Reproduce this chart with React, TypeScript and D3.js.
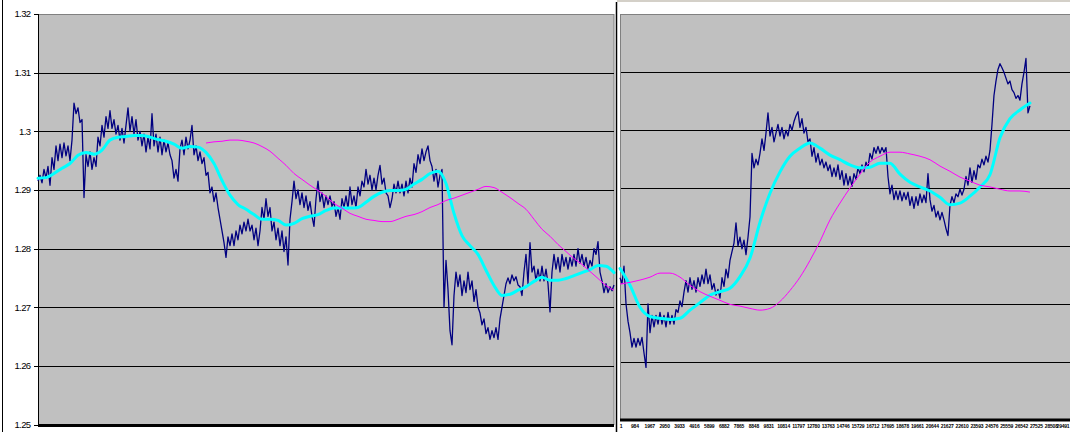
import React from 'react';
import * as d3 from 'd3';

// ---------- axis data ----------
const Y_TICKS = [1.25, 1.26, 1.27, 1.28, 1.29, 1.3, 1.31, 1.32];
const Y_TICK_LABELS = ['1.25', '1.26', '1.27', '1.28', '1.29', '1.3', '1.31', '1.32'];
const RIGHT_X_TICKS = [1, 984, 1967, 2950, 3933, 4916, 5899, 6882, 7865, 8848, 9831, 10814, 11797, 12780, 13763, 14746, 15729, 16712, 17695, 18678, 19661, 20644, 21627, 22610, 23593, 24576, 25559, 26542, 27525, 28508, 29491];

// observation counts (category numbers)
const LEFT_OBS_TOTAL = 38016;
const LEFT_SLOW_START = 11088;
const RIGHT_OBS_TOTAL = 31700;
const RIGHT_DATA_END = 27100;

// ---------- left chart series ----------
const leftPrice = [
  1.2915, 1.2925, 1.2912, 1.2935, 1.2920, 1.2940, 1.2908, 1.2955, 1.2935, 1.2975,
  1.2950, 1.2978, 1.2955, 1.2980, 1.2958, 1.2975, 1.2950, 1.2985, 1.3048, 1.3030,
  1.3040, 1.3015, 1.3020, 1.2887, 1.2960, 1.2940, 1.2965, 1.2935, 1.2955, 1.2940,
  1.2990, 1.2975, 1.3010, 1.2990, 1.3025, 1.3005, 1.3035, 1.3005, 1.3020, 1.2995,
  1.3010, 1.2985, 1.3005, 1.2980, 1.3010, 1.3040, 1.3000, 1.3025, 1.2995, 1.3020,
  1.2985, 1.3000, 1.2975, 1.2995, 1.2965, 1.2990, 1.2970, 1.3030, 1.2975, 1.2995,
  1.2965, 1.2990, 1.2960, 1.2985, 1.2965, 1.2980, 1.2960, 1.2950, 1.2920, 1.2935,
  1.2915, 1.2970, 1.2985, 1.2960, 1.2990, 1.2970, 1.2985, 1.3010, 1.2960, 1.2975,
  1.2950, 1.2965, 1.2945, 1.2955, 1.2925, 1.2930, 1.2895, 1.2905, 1.2880, 1.2895,
  1.2870, 1.2850, 1.2830, 1.2810, 1.2785, 1.2820, 1.2805, 1.2825, 1.2805, 1.2830,
  1.2815, 1.2840, 1.2825, 1.2845, 1.2830, 1.2850, 1.2830, 1.2840, 1.2815, 1.2835,
  1.2805, 1.2830, 1.2870, 1.2850, 1.2885, 1.2855, 1.2870, 1.2830, 1.2845, 1.2815,
  1.2835, 1.2805, 1.2830, 1.2795, 1.2820, 1.2772, 1.2850, 1.2880, 1.2915, 1.2885,
  1.2900, 1.2875, 1.2895, 1.2870, 1.2890, 1.2865, 1.2880, 1.2855, 1.2838, 1.2885,
  1.2915, 1.2880, 1.2895, 1.2870, 1.2890, 1.2875, 1.2890, 1.2872, 1.2880, 1.2855,
  1.2870, 1.2850, 1.2885, 1.2870, 1.2890, 1.2868, 1.2905, 1.2875, 1.2890, 1.2870,
  1.2905, 1.2890, 1.2915, 1.2905, 1.2935, 1.2910, 1.2925, 1.2900, 1.2920, 1.2900,
  1.2925, 1.2942, 1.2910, 1.2920, 1.2895, 1.2890, 1.2870, 1.2885, 1.2910, 1.2895,
  1.2915, 1.2895, 1.2910, 1.2890, 1.2915, 1.2895, 1.2920, 1.2905, 1.2945, 1.2930,
  1.2960, 1.2945, 1.2970, 1.2950, 1.2965, 1.2975, 1.2950, 1.2940, 1.2915, 1.2935,
  1.2905, 1.2925, 1.2935, 1.2700, 1.2780, 1.2730, 1.2660, 1.2636, 1.2720, 1.2760,
  1.2735, 1.2755, 1.2720, 1.2745, 1.2725, 1.2760, 1.2730, 1.2745, 1.2710, 1.2730,
  1.2700, 1.2690, 1.2670, 1.2680, 1.2655, 1.2665, 1.2645, 1.2660, 1.2648, 1.2665,
  1.2645, 1.2680, 1.2700, 1.2720, 1.2740, 1.2750, 1.2740, 1.2755, 1.2745, 1.2752,
  1.2738, 1.2735, 1.2720, 1.2760, 1.2790, 1.2740, 1.2810, 1.2760, 1.2770, 1.2745,
  1.2765, 1.2745, 1.2770, 1.2745, 1.2765, 1.2740, 1.2692, 1.2760, 1.2790, 1.2765,
  1.2785, 1.2760, 1.2790, 1.2770, 1.2785, 1.2765, 1.2785, 1.2770, 1.2790, 1.2770,
  1.2800, 1.2775, 1.2790, 1.2770, 1.2785, 1.2765, 1.2780, 1.2770, 1.2800, 1.2790,
  1.2812, 1.2760, 1.2745, 1.2725, 1.2740, 1.2725, 1.2735, 1.2728, 1.2738,
];

const leftFastMA = [
  1.2920, 1.2921, 1.2928, 1.2937, 1.2945, 1.2959, 1.2964, 1.2961, 1.2968, 1.2985,
  1.2990, 1.2991, 1.2993, 1.2993, 1.2990, 1.2986, 1.2983, 1.2978, 1.2971, 1.2974,
  1.2973, 1.2964, 1.2945, 1.2916, 1.2891, 1.2875, 1.2867, 1.2858, 1.2850, 1.2850,
  1.2848, 1.2840, 1.2843, 1.2851, 1.2855, 1.2858, 1.2865, 1.2869, 1.2869, 1.2869,
  1.2870, 1.2879, 1.2889, 1.2896, 1.2899, 1.2899, 1.2901, 1.2910, 1.2918, 1.2928,
  1.2932, 1.2911, 1.2860, 1.2822, 1.2805, 1.2790, 1.2763, 1.2737, 1.2720, 1.2722,
  1.2729, 1.2735, 1.2744, 1.2751, 1.2746, 1.2746, 1.2749, 1.2754, 1.2759, 1.2764,
  1.2771, 1.2770, 1.2759,
];

const leftSlowMA = [
  1.2980, 1.2982, 1.2983, 1.2985, 1.2985, 1.2983, 1.2980, 1.2974, 1.2966, 1.2954,
  1.2942, 1.2928, 1.2918, 1.2908, 1.2899, 1.2889, 1.2877, 1.2869, 1.2860, 1.2855,
  1.2850, 1.2848, 1.2846, 1.2846, 1.2850, 1.2855, 1.2858, 1.2863, 1.2870, 1.2875,
  1.2882, 1.2886, 1.2891, 1.2896, 1.2901, 1.2906, 1.2904, 1.2896, 1.2887, 1.2877,
  1.2867, 1.2850, 1.2833, 1.2821, 1.2807, 1.2795, 1.2783, 1.2773, 1.2761, 1.2749,
  1.2737, 1.2729,
];

// ---------- right chart series ----------
const rightPrice = [
  1.2745, 1.2735, 1.2765, 1.2700, 1.2670, 1.2650, 1.2625, 1.2640, 1.2625, 1.2640,
  1.2628, 1.2642, 1.2615, 1.2590, 1.2700, 1.2650, 1.2680, 1.2660, 1.2680, 1.2665,
  1.2685, 1.2665, 1.2680, 1.2660, 1.2685, 1.2665, 1.2680, 1.2665, 1.2690, 1.2685,
  1.2705, 1.2695, 1.2720, 1.2740, 1.2720, 1.2745, 1.2725, 1.2740, 1.2720, 1.2745,
  1.2730, 1.2750, 1.2735, 1.2760, 1.2735, 1.2750, 1.2725, 1.2735, 1.2715, 1.2725,
  1.2710, 1.2745, 1.2730, 1.2760, 1.2745, 1.2775, 1.2790, 1.2805, 1.2840, 1.2800,
  1.2815, 1.2795, 1.2810, 1.2785, 1.2815, 1.2850, 1.2960, 1.2935, 1.2950, 1.2940,
  1.2960, 1.2985, 1.2965, 1.2995, 1.3030, 1.2990, 1.3005, 1.2980, 1.2995, 1.3010,
  1.2990, 1.3005, 1.2985, 1.3000, 1.2990, 1.3010, 1.3000, 1.3015, 1.3025, 1.3032,
  1.3005, 1.3020, 1.2995, 1.3005, 1.2980, 1.2985, 1.2955, 1.2970, 1.2945, 1.2960,
  1.2940, 1.2950, 1.2935, 1.2945, 1.2930, 1.2940, 1.2920, 1.2935, 1.2920, 1.2940,
  1.2915, 1.2930, 1.2905, 1.2925, 1.2905, 1.2920, 1.2903, 1.2925, 1.2915, 1.2935,
  1.2925, 1.2940, 1.2928, 1.2945, 1.2935, 1.2960, 1.2950, 1.2970, 1.2960, 1.2972,
  1.2960, 1.2970, 1.2962, 1.2970, 1.2920, 1.2890, 1.2905, 1.2880, 1.2895, 1.2880,
  1.2895, 1.2878, 1.2892, 1.2880, 1.2893, 1.2870, 1.2885, 1.2865, 1.2885, 1.2870,
  1.2890, 1.2875, 1.2888, 1.2875, 1.2925, 1.2880, 1.2860, 1.2870, 1.2850, 1.2860,
  1.2845, 1.2858, 1.2845, 1.2830, 1.2818, 1.2870, 1.2885, 1.2875, 1.2890, 1.2885,
  1.2898, 1.2888, 1.2898, 1.2920, 1.2905, 1.2935, 1.2910, 1.2930, 1.2915, 1.2940,
  1.2935, 1.2950, 1.2940, 1.2955, 1.2945, 1.2965, 1.3010, 1.3060, 1.3085, 1.3105,
  1.3115, 1.3108, 1.3100, 1.3090, 1.3080, 1.3085, 1.3070, 1.3065, 1.3055, 1.3060,
  1.3052, 1.3080, 1.3100, 1.3124, 1.3030, 1.3042,
];

const rightFastMA = [
  1.2761, 1.2732, 1.2694, 1.2678, 1.2675, 1.2673, 1.2675, 1.2689, 1.2702, 1.2715,
  1.2721, 1.2727, 1.2747, 1.2779, 1.2841, 1.2891, 1.2928, 1.2955, 1.2969, 1.2978,
  1.2969, 1.2957, 1.2949, 1.2940, 1.2935, 1.2936, 1.2943, 1.2943, 1.2924, 1.2910,
  1.2902, 1.2895, 1.2884, 1.2871, 1.2874, 1.2886, 1.2902, 1.2923, 1.2987, 1.3020,
  1.3035, 1.3047,
];

const rightSlowMA = [
  1.2734, 1.2737, 1.2741, 1.2746, 1.2753, 1.2753, 1.2746, 1.2732, 1.2721, 1.2713,
  1.2706, 1.2699, 1.2696, 1.2692, 1.2689, 1.2692, 1.2704, 1.2723, 1.2746, 1.2775,
  1.2808, 1.2845, 1.2874, 1.2900, 1.2924, 1.2945, 1.2955, 1.2962, 1.2962, 1.2959,
  1.2955, 1.2949, 1.2938, 1.2929, 1.2919, 1.2912, 1.2905, 1.2902, 1.2898, 1.2895,
  1.2895, 1.2893,
];

const NAVY = '#000080';
const CYAN = '#00FFFF';
const MAGENTA = '#FF00FF';
const PLOT_BG = '#C0C0C0';
const FONT = '"Liberation Sans", Arial, sans-serif';

function seriesPath(
  values: number[],
  start: number,
  end: number,
  x: d3.ScaleLinear<number, number>,
  y: d3.ScaleLinear<number, number>,
  curve: d3.CurveFactory = d3.curveLinear,
) {
  const n = values.length;
  const line = d3
    .line<number>()
    .x((_, i) => x(start + (i * (end - start)) / (n - 1)))
    .y((d) => y(d))
    .curve(curve);
  return line(values) || '';
}

const crisp = (v: number) => Math.round(v) + 0.5;

export default function App() {
  // left chart scales
  const lx = d3.scaleLinear().domain([0, LEFT_OBS_TOTAL]).range([38, 614]);
  const ly = d3.scaleLinear().domain([1.25, 1.32]).range([424.5, 14]);
  // right chart scales
  const rx = d3.scaleLinear().domain([1, RIGHT_OBS_TOTAL]).range([620, 620 + (RIGHT_OBS_TOTAL - 1) / 66.1]);
  const ry = d3.scaleLinear().domain([1.25, 1.32]).range([419.5, 14.5]);

  return (
    <svg
      width={1070}
      height={432}
      style={{ position: 'absolute', left: 0, top: 0, display: 'block' }}
      fontFamily={FONT}
    >
      <rect x={0} y={0} width={1070} height={432} fill="#FFFFFF" />
      {/* left chart outer border */}
      <line x1={2.5} x2={2.5} y1={0} y2={432} stroke="#000" strokeWidth={1} />

      {/* ---------- LEFT CHART ---------- */}
      <rect x={38.5} y={14.5} width={575.5} height={410} fill={PLOT_BG} stroke="#808080" strokeWidth={1} />
      {Y_TICKS.slice(1, -1).map((t) => (
        <line key={'lg' + t} x1={38} x2={614} y1={crisp(ly(t))} y2={crisp(ly(t))} stroke="#000" strokeWidth={1} />
      ))}
      <line x1={38.5} x2={38.5} y1={14} y2={426} stroke="#000" strokeWidth={1} />
      {Y_TICKS.map((t, i) => (
        <g key={'lt' + t}>
          <line x1={34} x2={38} y1={crisp(ly(t))} y2={crisp(ly(t))} stroke="#000" strokeWidth={1} />
          <text
            x={30.5}
            y={ly(t)}
            dy="0.35em"
            textAnchor="end"
            fontSize={9.5}
            letterSpacing={-0.6}
            fill="#000"
          >
            {Y_TICK_LABELS[i]}
          </text>
        </g>
      ))}
      <path d={seriesPath(leftPrice, 0, LEFT_OBS_TOTAL, lx, ly)} fill="none" stroke={NAVY} strokeWidth={1.3} strokeLinejoin="round" />
      <path d={seriesPath(leftFastMA, 0, LEFT_OBS_TOTAL, lx, ly, d3.curveMonotoneX)} fill="none" stroke={CYAN} strokeWidth={3} strokeLinecap="round" />
      <path d={seriesPath(leftSlowMA, LEFT_SLOW_START, LEFT_OBS_TOTAL, lx, ly, d3.curveMonotoneX)} fill="none" stroke={MAGENTA} strokeWidth={1} />
      <line x1={38} x2={614} y1={425.5} y2={425.5} stroke="#000" strokeWidth={3} />

      {/* ---------- RIGHT CHART ---------- */}
      <rect x={617} y={0} width={453} height={2} fill="#D4D0C8" />
      <rect x={617} y={2} width={453} height={430} fill="#FFFFFF" />
      <line x1={616.5} x2={616.5} y1={2} y2={432} stroke="#000" strokeWidth={1.5} />
      <rect x={620.5} y={14.5} width={470} height={405} fill={PLOT_BG} stroke="#808080" strokeWidth={1} />
      {Y_TICKS.slice(1, -1).map((t) => (
        <line key={'rg' + t} x1={621} x2={1070} y1={crisp(ry(t))} y2={crisp(ry(t))} stroke="#000" strokeWidth={1} />
      ))}
      <path d={seriesPath(rightPrice, 1, RIGHT_DATA_END, rx, ry)} fill="none" stroke={NAVY} strokeWidth={1.3} strokeLinejoin="round" />
      <path d={seriesPath(rightFastMA, 1, RIGHT_DATA_END, rx, ry, d3.curveMonotoneX)} fill="none" stroke={CYAN} strokeWidth={3} strokeLinecap="round" />
      <path d={seriesPath(rightSlowMA, 1, RIGHT_DATA_END, rx, ry, d3.curveMonotoneX)} fill="none" stroke={MAGENTA} strokeWidth={1} />
      <line x1={620} x2={1070} y1={420} y2={420} stroke="#000" strokeWidth={3} />
      {RIGHT_X_TICKS.map((t) => (
        <text
          key={'rx' + t}
          x={Math.min(rx(t) + (t === 1 ? 1 : 0), 1063)}
          y={428}
          textAnchor="middle"
          fontSize={5}
          fontWeight="bold"
          letterSpacing={-0.2}
          fill="#000"
        >
          {t}
        </text>
      ))}
    </svg>
  );
}
